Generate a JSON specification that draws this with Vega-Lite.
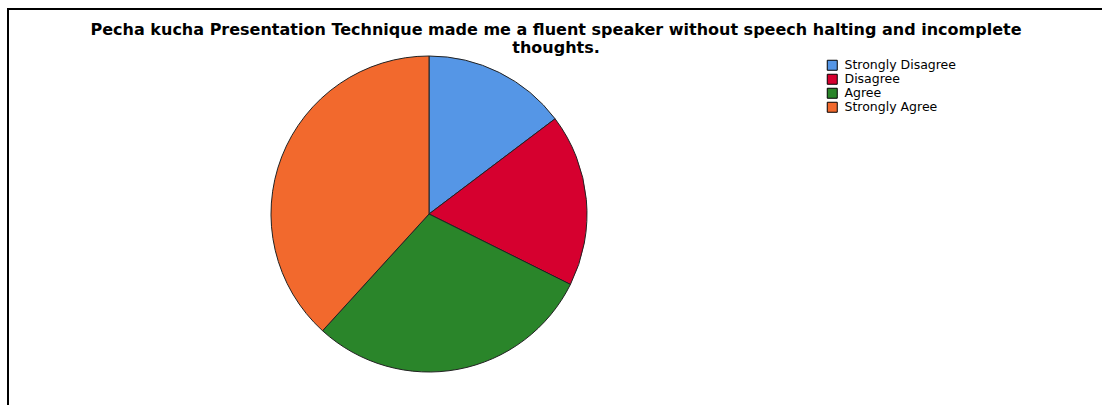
{
  "$schema": "https://vega.github.io/schema/vega-lite/v6.json",
  "width": 1096,
  "height": 398,
  "autosize": "none",
  "padding": {"left": 8, "top": 9, "right": 0, "bottom": 0},
  "background": "white",
  "view": {"stroke": "black", "strokeWidth": 2, "fill": "white"},
  "title": {
    "text": ["Pecha kucha Presentation Technique made me a fluent speaker without speech halting and incomplete", "thoughts."],
    "anchor": "middle",
    "offset": -47,
    "font": "DejaVu Sans",
    "fontSize": 16,
    "fontWeight": "bold",
    "lineHeight": 18,
    "color": "black"
  },
  "data": {
    "values": [
      {"response": "Strongly Disagree", "count": 5, "idx": 1},
      {"response": "Disagree", "count": 6, "idx": 2},
      {"response": "Agree", "count": 10, "idx": 3},
      {"response": "Strongly Agree", "count": 13, "idx": 4}
    ]
  },
  "mark": {"type": "arc", "x": 421, "y": 205, "outerRadius": 158, "stroke": "#222222", "strokeWidth": 1},
  "encoding": {
    "theta": {"field": "count", "type": "quantitative", "stack": true},
    "order": {"field": "idx", "type": "quantitative"},
    "color": {
      "field": "response",
      "type": "nominal",
      "scale": {
        "domain": ["Strongly Disagree", "Disagree", "Agree", "Strongly Agree"],
        "range": ["#5596E6", "#D6002F", "#2A852A", "#F2692D"]
      },
      "legend": {
        "title": null,
        "orient": "none",
        "legendX": 818,
        "legendY": 50,
        "symbolType": "square",
        "symbolSize": 100,
        "symbolStrokeColor": "black",
        "symbolStrokeWidth": 1,
        "symbolOpacity": 1,
        "labelFont": "DejaVu Sans",
        "labelFontSize": 12.5,
        "labelColor": "black",
        "labelOffset": 6,
        "rowPadding": -4
      }
    }
  }
}
